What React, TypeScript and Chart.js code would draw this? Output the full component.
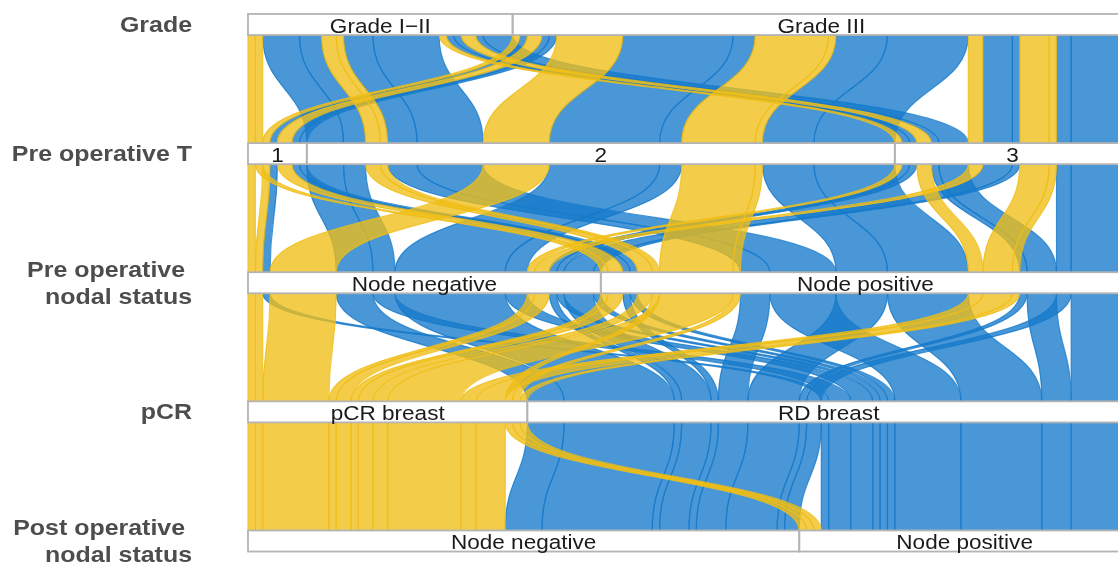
import React, { useEffect, useRef } from "react";
import { Chart, registerables } from "chart.js";

Chart.register(...registerables);

// ---------- data ----------
const axisTitles = [
  ["Grade"],
  ["Pre operative T"],
  ["Pre operative ", "nodal status"],
  ["pCR"],
  ["Post operative ", "nodal status"],
];
const gradeLevels = ["Grade I\u2212II", "Grade III"];
const tLevels = ["1", "2", "3"];
const nodePreLevels = ["Node negative", "Node positive"];
const pcrLevels = ["pCR breast", "RD breast"];
const nodePostLevels = ["Node negative", "Node positive"];

// one entry per distinct patient path (alluvium); values are level indices
const flowGrade = [0, 1, 1, 0, 1, 0, 1, 0, 1, 0, 1, 0, 1, 1, 0, 0, 0, 0, 1, 1, 1, 1, 1, 1, 1, 1, 0, 0, 0, 0, 1, 1, 1];
const flowT = [0, 0, 1, 2, 2, 0, 0, 1, 1, 2, 2, 1, 1, 2, 1, 1, 1, 1, 1, 1, 1, 1, 2, 2, 2, 2, 2, 2, 2, 2, 0, 0, 0];
const flowNodePre = [0, 0, 0, 0, 0, 1, 1, 1, 1, 1, 1, 1, 1, 1, 0, 0, 1, 1, 0, 0, 1, 1, 0, 0, 1, 1, 0, 0, 1, 1, 0, 1, 1];
const flowPCR = [0, 0, 0, 0, 0, 0, 0, 0, 0, 0, 0, 0, 0, 0, 1, 1, 1, 1, 1, 1, 1, 1, 1, 1, 1, 1, 1, 1, 1, 1, 1, 1, 1];
const flowNodePost = [0, 0, 0, 0, 0, 0, 0, 0, 0, 0, 0, 1, 1, 1, 0, 1, 0, 1, 0, 1, 0, 1, 0, 1, 0, 1, 0, 1, 0, 1, 1, 0, 1];
const flowCount = [1, 1, 9, 1, 2, 1, 2, 2, 10, 2, 4, 1, 1, 1, 5, 3, 4, 9, 15, 3, 7, 11, 4, 1, 2, 8, 1, 1, 1, 4, 1, 1, 1];

// ---------- layout helpers ----------
const levelSets = [gradeLevels, tLevels, nodePreLevels, pcrLevels, nodePostLevels];
const flowVars = [flowGrade, flowT, flowNodePre, flowPCR, flowNodePost];
// zigzag lode guidance (order by own axis, then nearest axes outward)
const guidance = [
  [0, 1, 2, 3, 4],
  [1, 0, 2, 3, 4],
  [2, 1, 3, 0, 4],
  [3, 4, 2, 1, 0],
  [4, 3, 2, 1, 0],
];

const FILL = ["rgba(240,190,22,0.78)", "rgba(22,122,202,0.78)"];
const BOX_HALF = 0.0815; // stratum half-height (y units)
const CURVE_K = 0.5;
const TEXT_STRETCH = 1.1;
const TITLE_STRETCH = 1.16;

function computeLayout() {
  const n = flowCount.length;
  const start: number[][] = [];
  for (let a = 0; a < 5; a++) {
    const idx = Array.from({ length: n }, (_, i) => i);
    idx.sort((i, j) => {
      for (const g of guidance[a]) {
        const d = flowVars[g][i] - flowVars[g][j];
        if (d !== 0) return d;
      }
      return i - j;
    });
    let acc = 0;
    const s: number[] = new Array(n).fill(0);
    for (const i of idx) {
      s[i] = acc;
      acc += flowCount[i];
    }
    start.push(s);
  }
  const strata = levelSets.map((lv, a) => {
    const tot = lv.map(() => 0);
    flowCount.forEach((c, i) => {
      tot[flowVars[a][i]] += c;
    });
    let acc = 0;
    return tot.map((t) => {
      const r = [acc, acc + t];
      acc += t;
      return r;
    });
  });
  return { start, strata };
}

const alluvialPlugin = {
  id: "alluvial",
  afterDatasetsDraw(chart: any) {
    const ctx: CanvasRenderingContext2D = chart.ctx;
    const xs = chart.scales.x;
    const ys = chart.scales.y;
    const px = (v: number) => xs.getPixelForValue(v);
    const py = (v: number) => ys.getPixelForValue(v);
    const { start, strata } = computeLayout();
    const n = flowCount.length;

    // draw blue (RD) first, yellow (pCR) on top
    const order = Array.from({ length: n }, (_, i) => i).sort(
      (i, j) => flowPCR[j] - flowPCR[i] || i - j
    );

    ctx.save();
    for (const i of order) {
      const c = flowCount[i];
      ctx.beginPath();
      ctx.moveTo(px(start[0][i]), py(0));
      for (let a = 0; a < 4; a++) {
        const ya = py(a + BOX_HALF);
        const yb = py(a + 1 - BOX_HALF);
        const h = yb - ya;
        const xa = px(start[a][i]);
        const xb = px(start[a + 1][i]);
        ctx.lineTo(xa, ya);
        ctx.bezierCurveTo(xa, ya + h * CURVE_K, xb, yb - h * CURVE_K, xb, yb);
      }
      ctx.lineTo(px(start[4][i]), py(4));
      ctx.lineTo(px(start[4][i] + c), py(4));
      for (let a = 4; a > 0; a--) {
        const ya = py(a - 1 + BOX_HALF);
        const yb = py(a - BOX_HALF);
        const h = yb - ya;
        const xb = px(start[a][i] + c);
        const xa = px(start[a - 1][i] + c);
        ctx.lineTo(xb, yb);
        ctx.bezierCurveTo(xb, yb - h * CURVE_K, xa, ya + h * CURVE_K, xa, ya);
      }
      ctx.lineTo(px(start[0][i] + c), py(0));
      ctx.closePath();
      ctx.fillStyle = FILL[flowPCR[i]];
      ctx.fill();
      ctx.strokeStyle = FILL[flowPCR[i]];
      ctx.lineWidth = 1.2;
      ctx.stroke();
    }

    // strata boxes and labels
    for (let a = 0; a < 5; a++) {
      const y0 = py(a - BOX_HALF);
      const y1 = py(a + BOX_HALF);
      strata[a].forEach((r) => {
        ctx.fillStyle = "#ffffff";
        ctx.fillRect(px(r[0]), y0, px(r[1]) - px(r[0]), y1 - y0);
      });
      strata[a].forEach((r) => {
        ctx.strokeStyle = "#b4b4b4";
        ctx.lineWidth = 1.8;
        ctx.strokeRect(px(r[0]), y0, px(r[1]) - px(r[0]), y1 - y0);
      });
      strata[a].forEach((r, k) => {
        const cx = (px(r[0]) + px(r[1])) / 2;
        ctx.save();
        ctx.translate(cx, py(a) + 8.5);
        ctx.scale(TEXT_STRETCH, 1);
        ctx.font = "20.5px 'Liberation Sans', Arial, sans-serif";
        ctx.fillStyle = "#1a1a1a";
        ctx.textAlign = "center";
        ctx.textBaseline = "alphabetic";
        ctx.fillText(levelSets[a][k], 0, 0);
        ctx.restore();
      });
    }

    // axis titles (left)
    const titleX = px(0) - 56;
    for (let a = 0; a < 5; a++) {
      const lines = axisTitles[a];
      const lh = 27;
      const top = py(a) - ((lines.length - 1) * lh) / 2;
      lines.forEach((ln, k) => {
        ctx.save();
        ctx.translate(titleX, top + k * lh + 7.5);
        ctx.scale(TITLE_STRETCH, 1);
        ctx.font = "bold 21.5px 'Liberation Sans', Arial, sans-serif";
        ctx.fillStyle = "#4d4d4d";
        ctx.textAlign = "right";
        ctx.textBaseline = "alphabetic";
        ctx.fillText(ln, 0, 0);
        ctx.restore();
      });
    }
    ctx.restore();
  },
};

const PX_PER_UNIT = 7.35;
const X_MIN = -248 / PX_PER_UNIT;
const X_MAX = (1118 - 248) / PX_PER_UNIT;
const Y_MIN = -0.1897;
const Y_MAX = 4.1859;

export default function App() {
  const ref = useRef<HTMLCanvasElement | null>(null);
  useEffect(() => {
    const canvas = ref.current;
    if (!canvas) return;
    const chart = new Chart(canvas, {
      type: "scatter",
      data: { datasets: [{ data: [], pointRadius: 0 }] },
      options: {
        animation: false,
        responsive: true,
        maintainAspectRatio: false,
        layout: { padding: 0 },
        plugins: { legend: { display: false }, tooltip: { enabled: false } },
        scales: {
          x: { type: "linear", display: false, min: X_MIN, max: X_MAX },
          y: { type: "linear", display: false, reverse: true, min: Y_MIN, max: Y_MAX },
        },
      },
      plugins: [alluvialPlugin],
    } as any);
    return () => chart.destroy();
  }, []);
  return (
    <div style={{ position: "fixed", left: 0, top: 0, width: 1118, height: 565, background: "#fff" }}>
      <canvas ref={ref} />
    </div>
  );
}
